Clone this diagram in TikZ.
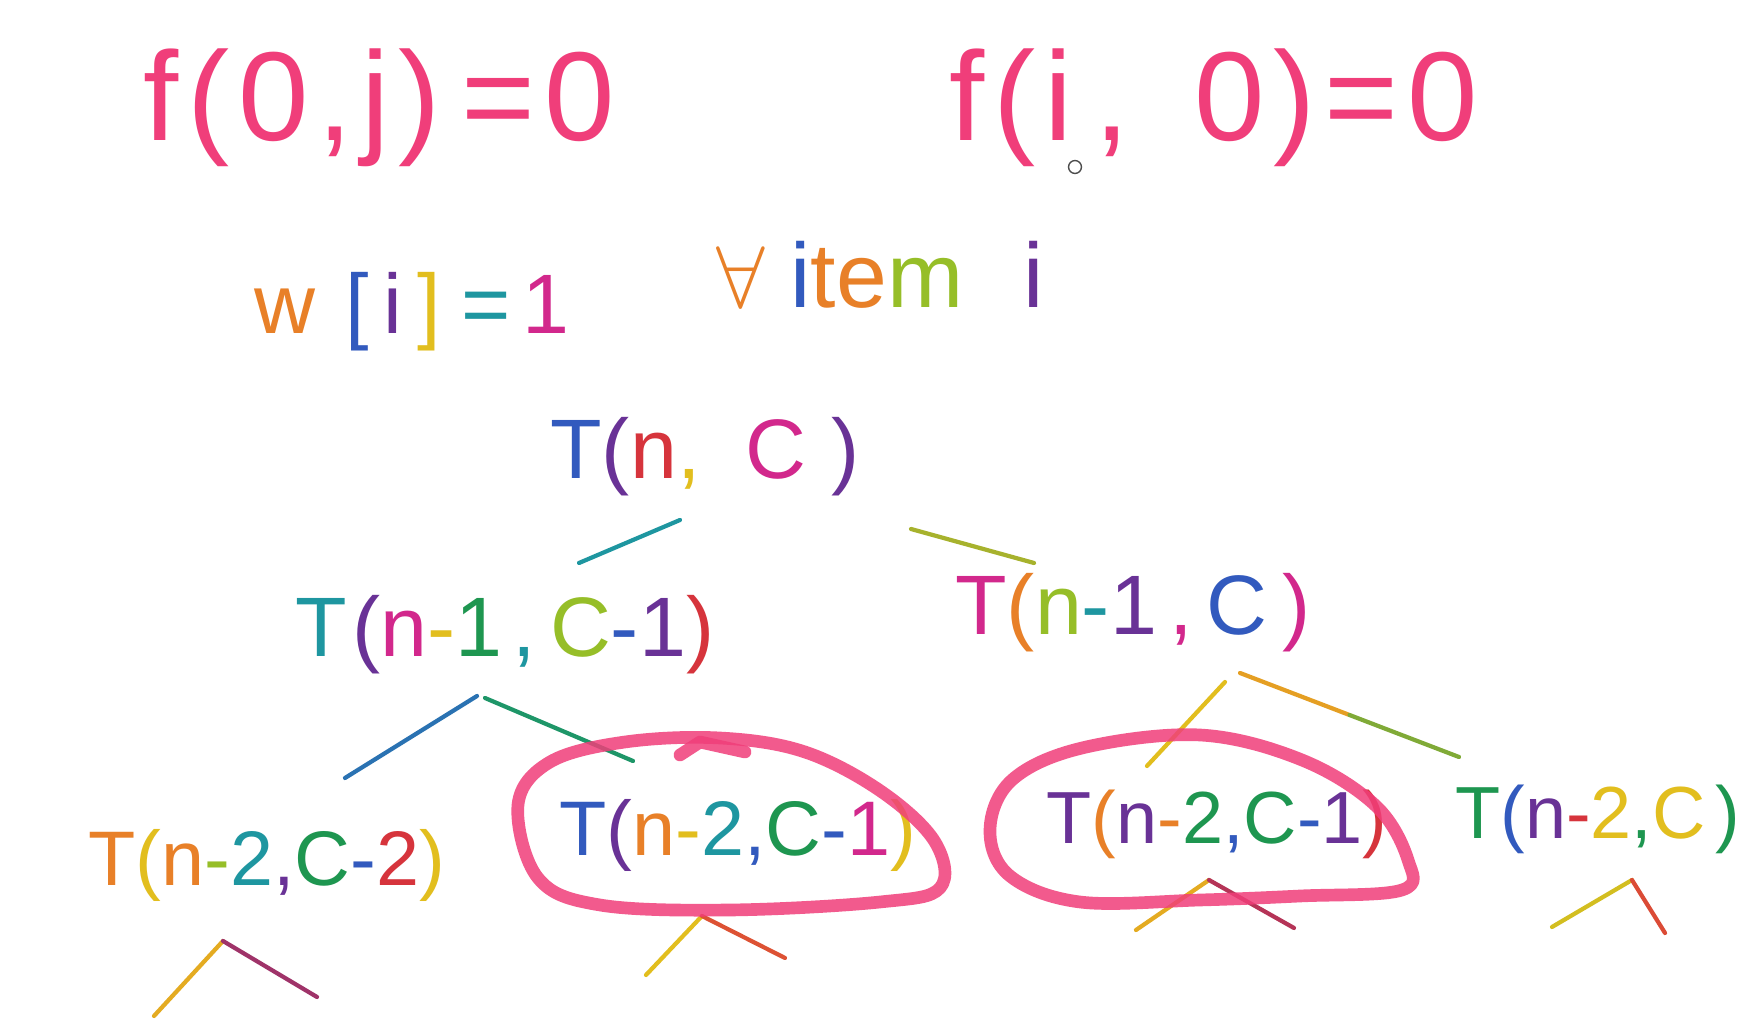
\documentclass[tikz,border=0pt]{standalone}
\usepackage{fontspec}
\setmainfont{Liberation Sans}
\usetikzlibrary{positioning,calc}

\definecolor{hpink}{RGB}{240,62,122}
\definecolor{hred}{RGB}{214,52,60}
\definecolor{horange}{RGB}{232,128,40}
\definecolor{hyellow}{RGB}{226,190,30}
\definecolor{hlime}{RGB}{150,190,40}
\definecolor{hgreen}{RGB}{30,150,80}
\definecolor{hteal}{RGB}{30,150,160}
\definecolor{hblue}{RGB}{50,90,190}
\definecolor{hpurple}{RGB}{105,50,150}
\definecolor{hmagenta}{RGB}{210,40,140}

\newcommand{\hc}[2]{\textcolor{#1}{#2}}

\begin{document}
\begin{tikzpicture}[x=0.01cm, y=-0.01cm,
  pinkhand/.style={text=hpink, font=\fontsize{36}{40}\selectfont\addfontfeature{LetterSpace=7}, inner sep=0pt},
  rainbow/.style={font=\fontsize{24}{28}\selectfont, inner sep=0pt},
  term/.style={font=\fontsize{24}{28}\selectfont, inner sep=0pt},
  leaf/.style={font=\fontsize{22}{26}\selectfont, inner sep=0pt},
  stroke/.style={line width=1.2pt, line cap=round},
  hoop/.style={draw=hpink, line width=3.6pt, opacity=.85, line cap=round, line join=round},
]
\useasboundingbox[fill=white] (0,0) rectangle (1747,1028);

% base cases
\node[pinkhand] (base0j) at (379,108) {f(0,j)\,=0};
\node[pinkhand] (basei0) at (1214,108) {f(i\,,\ \,0)=0};
\node[draw=black!70, circle, inner sep=1.3pt, line width=.4pt] (dot) at (1075,167) {};

\node[rainbow] (weight) at (412,312) {\hc{horange}{w}\hspace{.3cm}\hc{hblue}{[}\hspace{.15cm}\hc{hpurple}{i}\hspace{.15cm}\hc{hyellow}{]}\hspace{.2cm}\hc{hteal}{=}\hspace{.12cm}\hc{hmagenta}{1}};
\node[rainbow, font=\fontsize{26}{30}\selectfont] (forall) at (880,275) {\hc{horange}{$\forall$}\ \hc{hblue}{i}\hc{horange}{te}\hc{hlime}{m}\hspace{0.6cm}\hc{hpurple}{i}};

% recursion tree
\node[term] (root) at (705,457) {\hc{hblue}{T}\hc{hpurple}{(}\hc{hred}{n}\hc{hyellow}{,}\hspace{0.45cm}\hc{hmagenta}{C}\hspace{0.25cm}\hc{hpurple}{)}};
\node[term] (lft) at (505,635) {\hc{hteal}{T}\hspace{0.05cm}\hc{hpurple}{(}\hc{hmagenta}{n}\hc{hyellow}{-}\hc{hgreen}{1}\hspace{0.1cm}\hc{hteal}{,}\,\hc{hlime}{C}\hc{hblue}{-}\hc{hpurple}{1}\hc{hred}{)}};
\node[term] (rgt) at (1133,613) {\hc{hmagenta}{T}\hc{horange}{(}\hc{hlime}{n}\hc{hteal}{-}\hc{hpurple}{1}\hspace{0.12cm}\hc{hmagenta}{,}\,\hc{hblue}{C}\hspace{0.15cm}\hc{hmagenta}{)}};

\node[leaf] (ll) at (267,865) {\hc{horange}{T}\hc{hyellow}{(}\hc{horange}{n}\hc{hlime}{-}\hc{hteal}{2}\hc{hpurple}{,}\hc{hgreen}{C}\hc{hblue}{-}\hc{hred}{2}\hc{hyellow}{)}};
\node[leaf] (lr) at (738,835) {\hc{hblue}{T}\hc{hpurple}{(}\hc{horange}{n}\hc{hyellow}{-}\hc{hteal}{2}\hc{hblue}{,}\hc{hgreen}{C}\hc{hblue}{-}\hc{hmagenta}{1}\hc{hyellow}{)}};
\node[leaf, font=\fontsize{21}{25}\selectfont] (rl) at (1217,824) {\hc{hpurple}{T}\hc{horange}{(}\hc{hpurple}{n}\hc{horange}{-}\hc{hgreen}{2}\hc{hblue}{,}\hc{hgreen}{C}\hc{hblue}{-}\hc{hpurple}{1}\hc{hred}{)}};
\node[leaf, font=\fontsize{21}{25}\selectfont] (rr) at (1598,819) {\hc{hgreen}{T}\hc{hblue}{(}\hc{hpurple}{n}\hc{hred}{-}\hc{hyellow}{2}\hc{hgreen}{,}\hc{hyellow}{C}\hspace{0.1cm}\hc{hgreen}{)}};

% free-hand branch strokes
\coordinate (rootA) at (680,520);  \coordinate (rootB) at (579,563);
\coordinate (rootC) at (911,529);  \coordinate (rootD) at (1034,563);
\coordinate (lftA) at (477,696);   \coordinate (lftB) at (345,778);
\coordinate (lftC) at (485,698);   \coordinate (lftD) at (633,761);
\coordinate (rgtA) at (1225,682);  \coordinate (rgtB) at (1147,766);
\coordinate (rgtC) at (1240,673);  \coordinate (rgtD) at (1459,757);
\coordinate (rgtM) at ($(rgtC)!.5!(rgtD)$);

\draw[stroke, hteal] (rootA) -- (rootB);
\draw[stroke, hyellow!70!hgreen] (rootC) -- (rootD);
\draw[stroke, hblue!60!hteal] (lftA) -- (lftB);
\draw[stroke, hgreen!70!hteal] (lftC) -- (lftD);
\draw[stroke, hyellow] (rgtA) -- (rgtB);
\draw[stroke, horange!50!hyellow] (rgtC) -- (rgtM);
\draw[stroke, hyellow!50!hgreen] (rgtM) -- (rgtD);

% stubs below the leaves
\coordinate (llA) at (154,1016);  \coordinate (llT) at (223,941);  \coordinate (llB) at (317,997);
\coordinate (lrA) at (646,975);   \coordinate (lrT) at (702,916);  \coordinate (lrB) at (785,958);
\coordinate (rlA) at (1136,930);  \coordinate (rlT) at (1209,880); \coordinate (rlB) at (1294,928);
\coordinate (rrA) at (1552,927);  \coordinate (rrT) at (1632,880); \coordinate (rrB) at (1665,933);

\draw[stroke, hyellow!70!horange] (llA) -- (llT);
\draw[stroke, hpurple!50!hred] (llT) -- (llB);
\draw[stroke, hyellow] (lrA) -- (lrT);
\draw[stroke, hred!60!horange] (lrT) -- (lrB);
\draw[stroke, hyellow!70!horange] (rlA) -- (rlT);
\draw[stroke, hred!70!hpurple] (rlT) -- (rlB);
\draw[stroke, hyellow!80!hlime] (rrA) -- (rrT);
\draw[stroke, hred!70!horange] (rrT) -- (rrB);

% repeated subproblems circled
\draw[hoop] plot[smooth cycle, tension=.6] coordinates {(518,805) (550,762) (625,742) (720,738) (805,752) (882,792) (935,842) (940,888) (880,902) (730,910) (600,905) (538,878)};
\draw[hoop] (680,755) -- (700,742) -- (745,752);
\draw[hoop] plot[smooth cycle, tension=.6] coordinates {(990,830) (1012,780) (1082,748) (1200,735) (1302,760) (1376,806) (1408,860) (1402,890) (1300,896) (1200,900) (1080,902) (1010,876)};
\end{tikzpicture}
\end{document}
